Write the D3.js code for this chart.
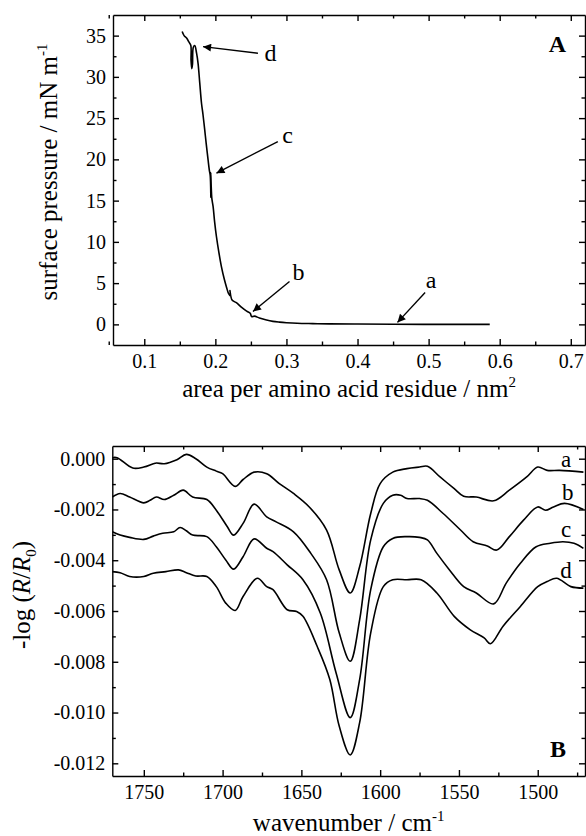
<!DOCTYPE html>
<html>
<head>
<meta charset="utf-8">
<script src="https://cdn.jsdelivr.net/npm/d3@7/dist/d3.min.js"></script>
<style>
body { margin: 0; background: #fff; }
svg text { font-family: "Liberation Serif", "Times New Roman", serif; fill: #000; }
.axis path, .axis line { stroke: #000; stroke-width: 1.4px; }
</style>
</head>
<body>
<div id="chart"></div>
<script>
// panel A: isotherm, [area per residue (nm2), surface pressure (mN/m)], compression order
let isotherm = [
    [0.586, 0.0], [0.52, 0.0], [0.45, 0.02], [0.40, 0.04], [0.36, 0.06], [0.337, 0.09],
    [0.315, 0.13], [0.30, 0.2], [0.29, 0.27], [0.281, 0.36], [0.272, 0.52], [0.262, 0.77],
    [0.255, 1.0], [0.251, 0.95], [0.249, 1.35], [0.244, 1.6], [0.237, 2.05], [0.230, 2.6],
    [0.2235, 2.95], [0.2205, 4.1], [0.2215, 3.4], [0.2185, 3.75], [0.2164, 4.3],
    [0.2125, 5.5], [0.2085, 7.0], [0.205, 8.7], [0.2015, 10.65], [0.199, 12.4], [0.1968, 14.3],
    [0.195, 15.3], [0.1935, 18.4], [0.1937, 15.4], [0.1928, 18.0], [0.1915, 18.7],
    [0.1898, 19.9], [0.187, 22.0], [0.185, 23.6], [0.1825, 25.5], [0.1805, 26.8],
    [0.178, 29.3], [0.1757, 31.6], [0.1735, 32.9], [0.171, 33.8], [0.169, 33.6],
    [0.1678, 31.5], [0.1668, 31.0], [0.1658, 32.0], [0.1655, 33.8], [0.163, 34.2],
    [0.1595, 34.7], [0.156, 35.0], [0.1533, 35.5]
];

// arrows in panel A: tip, tail, label position (data units)
let isoNotes = [
    {label: "a", tip: [0.4562, 0.24], tail: [0.4951, 3.87], text: [0.5035, 4.44]},
    {label: "b", tip: [0.2529, 1.57], tail: [0.3043, 5.2], text: [0.3170, 5.41]},
    {label: "c", tip: [0.2015, 18.33], tail: [0.2879, 22.16], text: [0.3015, 22.0]},
    {label: "d", tip: [0.1827, 33.66], tail: [0.2599, 32.86], text: [0.2777, 31.92]}
];

let areaTicks = [0.1, 0.2, 0.3, 0.4, 0.5, 0.6, 0.7];
let pressTicks = [0, 5, 10, 15, 20, 25, 30, 35];

// panel B: IRRA spectra, [wavenumber (cm-1), -log(R/R0)]
let specA = [
    [1770, 0.00004], [1767, 0.00004], [1757, -0.00037], [1750, -0.00033], [1744, -0.00020],
    [1742, -0.00017], [1737, -0.00020], [1729, -0.00004], [1723, 0.00017], [1717, 0.0],
    [1710, -0.00033], [1704, -0.00049], [1700, -0.00059], [1692, -0.00109], [1687, -0.00082],
    [1680, -0.00053], [1672, -0.00059], [1664, -0.00098], [1655, -0.00137], [1645, -0.00190],
    [1634, -0.00281], [1626, -0.00438], [1619, -0.00529], [1613, -0.00425], [1606, -0.00216],
    [1600, -0.00098], [1592, -0.00053], [1583, -0.00039], [1575, -0.00033], [1570, -0.00030],
    [1562, -0.00072], [1553, -0.00118], [1547, -0.00148], [1539, -0.00151], [1528, -0.00166],
    [1518, -0.00124], [1507, -0.00072], [1500, -0.00033], [1494, -0.00046], [1486, -0.00046],
    [1471, -0.00053]
];
let specB = [
    [1770, -0.00151], [1765, -0.00137], [1759, -0.00151], [1750, -0.00174], [1746, -0.00164],
    [1742, -0.00151], [1737, -0.00161], [1731, -0.00144], [1725, -0.00124], [1719, -0.00151],
    [1710, -0.00161], [1704, -0.00203], [1697, -0.00268], [1693, -0.00301], [1687, -0.00255],
    [1680, -0.00179], [1672, -0.00229], [1666, -0.00249], [1655, -0.00288], [1644, -0.00373],
    [1634, -0.00477], [1626, -0.00686], [1619, -0.00798], [1613, -0.00634], [1606, -0.00320],
    [1598, -0.00176], [1592, -0.00144], [1587, -0.00144], [1583, -0.00157], [1575, -0.00157],
    [1570, -0.00164], [1560, -0.00216], [1549, -0.00281], [1541, -0.00327], [1532, -0.00344],
    [1526, -0.00360], [1518, -0.00307], [1509, -0.00242], [1500, -0.00190], [1495, -0.00203],
    [1490, -0.00190], [1483, -0.00176], [1471, -0.00200]
];
let specC = [
    [1770, -0.00288], [1765, -0.00301], [1759, -0.00310], [1750, -0.00318], [1744, -0.00305],
    [1738, -0.00294], [1731, -0.00288], [1727, -0.00271], [1723, -0.00284], [1719, -0.00301],
    [1710, -0.00307], [1704, -0.00347], [1698, -0.00399], [1693, -0.00435], [1687, -0.00386],
    [1680, -0.00316], [1672, -0.00353], [1668, -0.00366], [1659, -0.00418], [1649, -0.00477],
    [1638, -0.00608], [1628, -0.00843], [1619, -0.01020], [1613, -0.00869], [1606, -0.00516],
    [1598, -0.00347], [1592, -0.00314], [1583, -0.00307], [1575, -0.00310], [1570, -0.00320],
    [1564, -0.00373], [1556, -0.00438], [1547, -0.00504], [1539, -0.00529], [1528, -0.00572],
    [1520, -0.00490], [1511, -0.00412], [1501, -0.00347], [1492, -0.00333], [1484, -0.00327],
    [1477, -0.00333], [1471, -0.00353]
];
let specD = [
    [1770, -0.00445], [1765, -0.00449], [1759, -0.00464], [1750, -0.00464], [1744, -0.00451],
    [1736, -0.00445], [1728, -0.00438], [1723, -0.00449], [1717, -0.00462], [1710, -0.00464],
    [1704, -0.00504], [1698, -0.00569], [1692, -0.00598], [1687, -0.00543], [1678, -0.00471],
    [1672, -0.00504], [1668, -0.00516], [1659, -0.00595], [1653, -0.00602], [1649, -0.00621],
    [1640, -0.00739], [1632, -0.00869], [1626, -0.01053], [1619, -0.01167], [1613, -0.01039],
    [1606, -0.00686], [1598, -0.00504], [1592, -0.00477], [1583, -0.00477], [1574, -0.00477],
    [1564, -0.00529], [1553, -0.00621], [1543, -0.00673], [1534, -0.00706], [1530, -0.00729],
    [1522, -0.00660], [1511, -0.00582], [1500, -0.00504], [1494, -0.00484], [1488, -0.00471],
    [1479, -0.00504], [1471, -0.00510]
];
let spectra = [specA, specB, specC, specD];
let specLabels = ["a", "b", "c", "d"];
let specLabelPos = [[1482, -0.00033], [1481, -0.00163], [1482, -0.00308], [1482, -0.0047]];

let waveTicks = [1750, 1700, 1650, 1600, 1550, 1500];
let absTicks = [0, -0.002, -0.004, -0.006, -0.008, -0.010, -0.012];

let svg = d3.select("#chart")
    .append("svg")
    .attr("width", 586)
    .attr("height", 836);

let defs = svg.append("defs");
defs.append("marker")
    .attr("id", "arrow")
    .attr("viewBox", "0 0 10 10")
    .attr("refX", 10)
    .attr("refY", 5)
    .attr("markerUnits", "userSpaceOnUse")
    .attr("markerWidth", 10)
    .attr("markerHeight", 8)
    .attr("orient", "auto")
    .append("path")
    .attr("d", "M0,0 L10,5 L0,10 z")
    .attr("fill", "#000");

// draws the box with inward ticks on all four sides
function drawFrame(g, x, y, w, h, xMajor, xMinor, yMajor, yMinor, xFmt, yFmt) {
    let sides = [
        {axis: d3.axisBottom, scale: x, t: `translate(0,${h})`, major: xMajor, minor: xMinor, fmt: xFmt, pad: 9},
        {axis: d3.axisTop, scale: x, t: "translate(0,0)", major: xMajor, minor: xMinor, fmt: () => "", pad: 0},
        {axis: d3.axisLeft, scale: y, t: "translate(0,0)", major: yMajor, minor: yMinor, fmt: yFmt, pad: 7},
        {axis: d3.axisRight, scale: y, t: `translate(${w},0)`, major: yMajor, minor: yMinor, fmt: () => "", pad: 0}
    ];
    sides.forEach(function(s) {
        let a = g.append("g")
            .attr("class", "axis")
            .attr("transform", s.t)
            .call(s.axis(s.scale).tickValues(s.major).tickSize(-6).tickSizeOuter(0)
                .tickPadding(s.pad).tickFormat(s.fmt));
        a.selectAll("text").style("font-size", "20px");
        let m = g.append("g")
            .attr("class", "axis")
            .attr("transform", s.t)
            .call(s.axis(s.scale).tickValues(s.minor).tickSize(-3.5).tickFormat(""));
        m.select(".domain").remove();
    });
}

// ---------- panel A ----------
let mA = {left: 113, top: 15, width: 472, height: 330};
let gA = svg.append("g").attr("transform", `translate(${mA.left},${mA.top})`);

let xA = d3.scaleLinear().domain([0.056, 0.72]).range([0, mA.width]);
let yA = d3.scaleLinear().domain([-2.5, 37.5]).range([mA.height, 0]);

defs.append("clipPath").attr("id", "clipA")
    .append("rect").attr("width", mA.width).attr("height", mA.height);

gA.append("path")
    .datum(isotherm)
    .attr("clip-path", "url(#clipA)")
    .attr("fill", "none")
    .attr("stroke", "#000")
    .attr("stroke-width", 1.6)
    .attr("d", d3.line()
        .x(function(d) { return xA(d[0]); })
        .y(function(d) { return yA(d[1]); })
        .curve(d3.curveCatmullRom.alpha(0.5)));

drawFrame(gA, xA, yA, mA.width, mA.height,
    areaTicks, [0.1, 0.2, 0.3, 0.4, 0.5, 0.6, 0.7].map(function(v) { return v - 0.05; }).concat([0.75]).filter(function(v) { return v < 0.72; }),
    pressTicks, [0, 5, 10, 15, 20, 25, 30, 35].map(function(v) { return v + 2.5; }).filter(function(v) { return v < 37.5; }),
    d3.format(".1f"), d3.format("d"));

isoNotes.forEach(function(n) {
    gA.append("line")
        .attr("x1", xA(n.tail[0])).attr("y1", yA(n.tail[1]))
        .attr("x2", xA(n.tip[0])).attr("y2", yA(n.tip[1]))
        .attr("stroke", "#000")
        .attr("stroke-width", 1.4)
        .attr("marker-end", "url(#arrow)");
    gA.append("text")
        .attr("x", xA(n.text[0]))
        .attr("y", yA(n.text[1]))
        .attr("text-anchor", "middle")
        .style("font-size", "24px")
        .text(n.label);
});

gA.append("text")
    .attr("x", mA.width - 19)
    .attr("y", 37)
    .attr("text-anchor", "end")
    .style("font-size", "24px")
    .style("font-weight", "bold")
    .text("A");

let xTitleA = gA.append("text")
    .attr("x", mA.width / 2)
    .attr("y", mA.height + 52)
    .attr("text-anchor", "middle")
    .style("font-size", "25px");
xTitleA.append("tspan").text("area per amino acid residue / nm");
xTitleA.append("tspan").attr("dy", -10).style("font-size", "15px").text("2");

let yTitleA = svg.append("text")
    .attr("transform", "translate(57,172) rotate(-90)")
    .attr("text-anchor", "middle")
    .style("font-size", "25px");
yTitleA.append("tspan").text("surface pressure / mN m");
yTitleA.append("tspan").attr("dy", -10).style("font-size", "15px").text("-1");

// ---------- panel B ----------
let mB = {left: 112.3, top: 446, width: 472.7, height: 330};
let gB = svg.append("g").attr("transform", `translate(${mB.left},${mB.top})`);

let xB = d3.scaleLinear().domain([1770, 1470]).range([0, mB.width]);
let yB = d3.scaleLinear().domain([-0.0125, 0.0005]).range([mB.height, 0]);

defs.append("clipPath").attr("id", "clipB")
    .append("rect").attr("width", mB.width).attr("height", mB.height);

let specLine = d3.line()
    .x(function(d) { return xB(d[0]); })
    .y(function(d) { return yB(d[1]); })
    .curve(d3.curveCatmullRom.alpha(0.5));

gB.append("g")
    .attr("clip-path", "url(#clipB)")
    .selectAll("path")
    .data(spectra)
    .enter()
    .append("path")
    .attr("fill", "none")
    .attr("stroke", "#000")
    .attr("stroke-width", 1.6)
    .attr("d", specLine);

drawFrame(gB, xB, yB, mB.width, mB.height,
    waveTicks, [1725, 1675, 1625, 1575, 1525, 1475],
    absTicks, [-0.001, -0.003, -0.005, -0.007, -0.009, -0.011],
    d3.format("d"), function(d) { return d3.format(".3f")(d).replace("\u2212", "-"); });

gB.selectAll(".spec-label")
    .data(specLabels)
    .enter()
    .append("text")
    .attr("class", "spec-label")
    .attr("x", function(d, i) { return xB(specLabelPos[i][0]); })
    .attr("y", function(d, i) { return yB(specLabelPos[i][1]); })
    .attr("text-anchor", "middle")
    .style("font-size", "23px")
    .text(function(d) { return d; });

gB.append("text")
    .attr("x", mB.width - 19)
    .attr("y", mB.height - 19)
    .attr("text-anchor", "end")
    .style("font-size", "24px")
    .style("font-weight", "bold")
    .text("B");

let xTitleB = gB.append("text")
    .attr("x", mB.width / 2)
    .attr("y", mB.height + 55)
    .attr("text-anchor", "middle")
    .style("font-size", "25px");
xTitleB.append("tspan").text("wavenumber / cm");
xTitleB.append("tspan").attr("dy", -10).style("font-size", "15px").text("-1");

let yTitleB = svg.append("text")
    .attr("transform", "translate(30,595) rotate(-90)")
    .attr("text-anchor", "middle")
    .style("font-size", "25px");
yTitleB.append("tspan").text("-log (");
yTitleB.append("tspan").style("font-style", "italic").text("R");
yTitleB.append("tspan").text("/");
yTitleB.append("tspan").style("font-style", "italic").text("R");
yTitleB.append("tspan").attr("dy", 6).style("font-size", "15px").text("0");
yTitleB.append("tspan").attr("dy", -6).text(")");
</script>
</body>
</html>
